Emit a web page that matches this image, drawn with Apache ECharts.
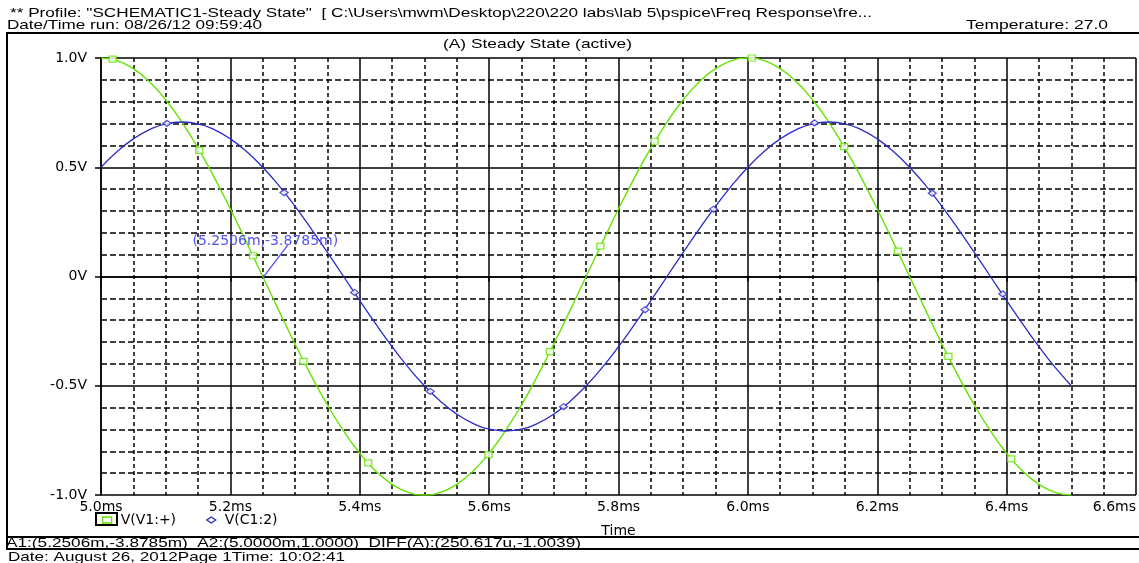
<!DOCTYPE html>
<html>
<head>
<meta charset="utf-8">
<style>
html,body{margin:0;padding:0;background:#fff;}
#chart{width:1139px;height:563px;}
</style>
<script src="https://cdn.jsdelivr.net/npm/echarts@6/dist/echarts.min.js"></script>
</head>
<body>
<div id="chart"></div>
<script>
// ---------- data ----------
const tMs = [
  5.000,5.025,5.050,5.075,5.100,5.125,5.150,5.175,5.200,5.225,
  5.250,5.275,5.300,5.325,5.350,5.375,5.400,5.425,5.450,5.475,
  5.500,5.525,5.550,5.575,5.600,5.625,5.650,5.675,5.700,5.725,
  5.750,5.775,5.800,5.825,5.850,5.875,5.900,5.925,5.950,5.975,
  6.000,6.025,6.050,6.075,6.100,6.125,6.150,6.175,6.200,6.225,
  6.250,6.275,6.300,6.325,6.350,6.375,6.400,6.425,6.450,6.475,
  6.500
];
const vV1 = [
  1.000,0.988,0.951,0.891,0.809,0.707,0.588,0.454,0.309,0.156,
  0.000,-0.156,-0.309,-0.454,-0.588,-0.707,-0.809,-0.891,-0.951,-0.988,
  -1.000,-0.988,-0.951,-0.891,-0.809,-0.707,-0.588,-0.454,-0.309,-0.156,
  0.000,0.156,0.309,0.454,0.588,0.707,0.809,0.891,0.951,0.988,
  1.000,0.988,0.951,0.891,0.809,0.707,0.588,0.454,0.309,0.156,
  0.000,-0.156,-0.309,-0.454,-0.588,-0.707,-0.809,-0.891,-0.951,-0.988,
  -1.000
];
const vC1 = [
  0.500,0.572,0.630,0.672,0.699,0.707,0.699,0.672,0.630,0.572,
  0.500,0.416,0.321,0.218,0.110,0.000,-0.110,-0.218,-0.321,-0.416,
  -0.500,-0.572,-0.630,-0.672,-0.699,-0.707,-0.699,-0.672,-0.630,-0.572,
  -0.500,-0.416,-0.321,-0.218,-0.110,0.000,0.110,0.218,0.321,0.416,
  0.500,0.572,0.630,0.672,0.699,0.707,0.699,0.672,0.630,0.572,
  0.500,0.416,0.321,0.218,0.110,0.000,-0.110,-0.218,-0.321,-0.416,
  -0.500
];
// trace symbols (as placed by the plotter)
const v1MarkT = [5.018,5.152,5.235,5.313,5.413,5.599,5.694,5.772,5.856,6.006,6.149,6.232,6.310,6.407];
const v1MarkV = [0.995,0.577,0.095,-0.388,-0.853,-0.815,-0.344,0.139,0.619,1.000,0.594,0.116,-0.366,-0.835];
const c1MarkT = [5.102,5.283,5.392,5.509,5.715,5.841,5.947,6.103,6.285,6.394];
const c1MarkV = [0.701,0.384,-0.073,-0.526,-0.596,-0.152,0.308,0.703,0.381,-0.080];

const seriesNames = ['V(V1:+)', 'V(C1:2)'];
const xTickLabels = ['5.0ms','5.2ms','5.4ms','5.6ms','5.8ms','6.0ms','6.2ms','6.4ms','6.6ms'];
const yTickLabels = ['-1.0V','-0.5V','0V','0.5V','1.0V'];

// cursor A1
const cursorA1 = [5.2506, -0.0038785];
const cursorLeaderEnd = [5.289, 0.145];
const cursorLabelAt = [5.254, 0.163];
const cursorLabel = '(5.2506m,-3.8785m)';

const headerLine1 = '** Profile: "SCHEMATIC1-Steady State"  [ C:\\Users\\mwm\\Desktop\\220\\220 labs\\lab 5\\pspice\\Freq Response\\fre...';
const headerLine2 = 'Date/Time run: 08/26/12 09:59:40';
const headerTemp = 'Temperature: 27.0';
const plotTitle = '(A) Steady State (active)';
const footerLine1 = 'A1:(5.2506m,-3.8785m)  A2:(5.0000m,1.0000)  DIFF(A):(250.617u,-1.0039)';
const footerLine2 = 'Date: August 26, 2012Page 1Time: 10:02:41';

// ---------- styles ----------
const GREEN = '#62e400';
const BLUE = '#2a2ac8';
const CURSOR = '#5252ee';
const AXFONT = 'DejaVu Sans';
const HFONT = '13px "Liberation Sans", Arial, sans-serif';

const mctx = document.createElement('canvas').getContext('2d');
function fitScale(text, font, width) {
  mctx.font = font;
  return width / mctx.measureText(text).width;
}
function headText(text, x, y, width) {
  return {
    type: 'text', x: x, y: y, silent: true,
    scaleX: fitScale(text, HFONT, width),
    style: { text: text, font: HFONT, fill: '#000',
      textAlign: 'left', textVerticalAlign: 'middle', align: 'left', verticalAlign: 'middle' }
  };
}

const lineV1 = tMs.map((t, i) => [t, vV1[i]]);
const lineC1 = tMs.map((t, i) => [t, vC1[i]]);
const markV1 = v1MarkT.map((t, i) => [t, v1MarkV[i]]);
const markC1 = c1MarkT.map((t, i) => [t, c1MarkV[i]]);

const chart = echarts.init(document.getElementById('chart'), null, { renderer: 'canvas' });
chart.setOption({
  animation: false,
  backgroundColor: '#fff',
  grid: { left: 101, right: 1, top: 58, bottom: 68 },
  xAxis: {
    type: 'value', min: 5.0, max: 6.6, interval: 0.2,
    name: 'Time', nameLocation: 'middle', nameGap: 29,
    nameTextStyle: { color: '#000', fontFamily: AXFONT, fontSize: 14 },
    axisLine: { show: true, lineStyle: { color: '#000', width: 1.5 } },
    axisTick: { show: true, length: 5, lineStyle: { color: '#000', width: 1.5 } },
    axisLabel: {
      color: '#000', fontFamily: AXFONT, fontSize: 14, margin: 5,
      alignMaxLabel: 'right',
      formatter: v => xTickLabels[Math.round((v - 5.0) / 0.2)]
    },
    splitLine: { show: true, lineStyle: { color: '#000', width: 1.5 } },
    minorTick: { show: false, splitNumber: 4 },
    minorSplitLine: { show: true, lineStyle: { color: '#000', width: 1.5, type: [4, 3] } }
  },
  yAxis: {
    type: 'value', min: -1, max: 1, interval: 0.5,
    axisLine: { show: true, lineStyle: { color: '#000', width: 1.5 } },
    axisTick: { show: true, length: 6, lineStyle: { color: '#000', width: 1.5 } },
    axisLabel: {
      color: '#000', fontFamily: AXFONT, fontSize: 14, margin: 14,
      formatter: v => yTickLabels[Math.round((v + 1) / 0.5)]
    },
    splitLine: { show: true, lineStyle: { color: '#000', width: 1.5 } },
    minorTick: { show: false, splitNumber: 5 },
    minorSplitLine: { show: true, lineStyle: { color: '#000', width: 1.5, type: [6, 3] } }
  },
  legend: {
    left: 102, top: 513, padding: 0, itemGap: 30,
    itemWidth: 9, itemHeight: 6, selectedMode: false,
    textStyle: { color: '#000', fontFamily: AXFONT, fontSize: 14, padding: [0, 0, 0, 4] },
    data: [
      { name: seriesNames[0], icon: 'rect', itemStyle: { color: '#fff', borderColor: GREEN, borderWidth: 1.3 } },
      { name: seriesNames[1], icon: 'diamond', itemStyle: { color: '#fff', borderColor: BLUE, borderWidth: 1.3 } }
    ]
  },
  series: [
    {
      name: seriesNames[0], type: 'line', data: lineV1, smooth: true, showSymbol: false,
      lineStyle: { color: GREEN, width: 1.4 }, itemStyle: { color: GREEN }, z: 3,
      markLine: {
        silent: true, animation: false, symbol: ['none', 'none'],
        lineStyle: { color: CURSOR, width: 1.3, type: 'solid' },
        label: { show: false },
        data: [[{ coord: cursorA1 }, { coord: cursorLeaderEnd }]]
      },
      markPoint: {
        silent: true, animation: false, symbol: 'rect', symbolSize: 1,
        itemStyle: { color: 'rgba(0,0,0,0)' },
        label: { show: true, position: 'inside', formatter: cursorLabel,
          color: CURSOR, fontFamily: AXFONT, fontSize: 14 },
        data: [{ coord: cursorLabelAt }]
      }
    },
    {
      name: seriesNames[1], type: 'line', data: lineC1, smooth: true, showSymbol: false,
      lineStyle: { color: BLUE, width: 1.3 }, itemStyle: { color: BLUE }, z: 3
    },
    {
      name: seriesNames[0], type: 'scatter', data: markV1, symbol: 'rect', symbolSize: [7, 6],
      itemStyle: { color: '#fff', borderColor: GREEN, borderWidth: 1.3 }, z: 4, clip: false
    },
    {
      name: seriesNames[1], type: 'scatter', data: markC1, symbol: 'diamond', symbolSize: [8, 6],
      itemStyle: { color: '#fff', borderColor: BLUE, borderWidth: 1.3 }, z: 4, clip: false
    }
  ],
  graphic: [
    { type: 'rect', silent: true, shape: { x: 7, y: 33, width: 1140, height: 516 },
      style: { fill: 'none', stroke: '#000', lineWidth: 2 } },
    { type: 'line', silent: true, shape: { x1: 7, y1: 537, x2: 1139, y2: 537 },
      style: { stroke: '#000', lineWidth: 2 } },
    { type: 'rect', silent: true, shape: { x: 96, y: 513, width: 21, height: 12 },
      style: { fill: 'none', stroke: '#000', lineWidth: 2 } },
    headText(headerLine1, 10, 13, 862),
    headText(headerLine2, 7, 25, 255),
    headText(headerTemp, 966, 25, 142),
    headText(plotTitle, 443, 44, 189),
    headText(footerLine1, 6, 543, 575),
    headText(footerLine2, 8, 557, 337)
  ]
});
</script>
</body>
</html>
